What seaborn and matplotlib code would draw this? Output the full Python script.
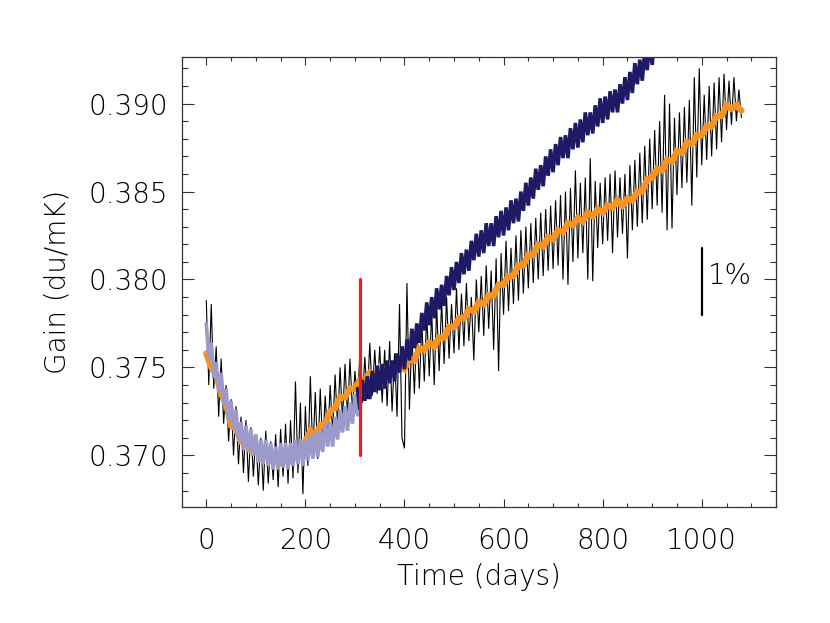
import numpy as np
import pandas as pd
import matplotlib
matplotlib.use("Agg")
import matplotlib.pyplot as plt
import seaborn as sns
from matplotlib.ticker import MultipleLocator, FormatStrFormatter

# --- dados (ganho em unidades de 1e-4 du/mK) ---
dias_preto = np.arange(0, 1085, 5)
ganho_preto = [
    3788, 3740, 3786, 3738, 3762, 3722, 3755, 3718, 3740, 3708,
    3732, 3700, 3728, 3695, 3722, 3690, 3720, 3685, 3716, 3688,
    3712, 3683, 3710, 3680, 3714, 3684, 3708, 3686, 3712, 3682,
    3715, 3688, 3718, 3684, 3720, 3687, 3742, 3690, 3730, 3678,
    3728, 3694, 3745, 3700, 3736, 3698, 3738, 3704, 3734, 3708,
    3740, 3712, 3746, 3716, 3750, 3720, 3752, 3722, 3755, 3725,
    3748, 3728, 3758, 3730, 3756, 3732, 3764, 3734, 3760, 3735,
    3762, 3730, 3760, 3728, 3765, 3725, 3758, 3722, 3786, 3710,
    3704, 3798, 3726, 3770, 3735, 3775, 3738, 3776, 3742, 3780,
    3745, 3782, 3740, 3785, 3748, 3788, 3752, 3790, 3755, 3786,
    3758, 3795, 3760, 3792, 3762, 3798, 3765, 3790, 3754, 3800,
    3770, 3802, 3768, 3808, 3772, 3805, 3760, 3812, 3748, 3815,
    3780, 3822, 3782, 3818, 3786, 3825, 3788, 3828, 3792, 3830,
    3795, 3832, 3798, 3835, 3800, 3838, 3802, 3840, 3805, 3842,
    3806, 3845, 3808, 3848, 3800, 3850, 3797, 3852, 3810, 3862,
    3812, 3855, 3815, 3858, 3800, 3869, 3799, 3856, 3818, 3855,
    3820, 3858, 3822, 3860, 3815, 3862, 3824, 3858, 3826, 3860,
    3812, 3865, 3828, 3868, 3830, 3872, 3832, 3876, 3834, 3880,
    3840, 3885, 3842, 3890, 3838, 3905, 3828, 3900, 3829, 3892,
    3848, 3895, 3852, 3898, 3855, 3902, 3842, 3915, 3858, 3920,
    3865, 3905, 3868, 3910, 3870, 3912, 3874, 3915, 3878, 3917,
    3885, 3913, 3888, 3915, 3890, 3908, 3892,
]

dias_laranja = np.arange(0, 1090, 10)
ganho_laranja = [
    3758, 3750, 3746, 3735, 3729, 3717, 3715, 3708, 3708, 3703,
    3703, 3699, 3701, 3697, 3699, 3696, 3699, 3697, 3700, 3700,
    3708, 3714, 3710, 3717, 3718, 3725, 3727, 3733, 3733, 3738,
    3738, 3743, 3743, 3747, 3746, 3750, 3747, 3750, 3748, 3751,
    3749, 3755, 3754, 3761, 3760, 3764, 3762, 3767, 3767, 3773,
    3773, 3778, 3778, 3783, 3782, 3787, 3786, 3791, 3791, 3797,
    3797, 3802, 3802, 3808, 3808, 3814, 3814, 3820, 3819, 3824,
    3823, 3828, 3827, 3832, 3831, 3835, 3833, 3838, 3836, 3840,
    3838, 3842, 3841, 3845, 3842, 3846, 3845, 3850, 3850, 3857,
    3858, 3863, 3862, 3868, 3867, 3873, 3872, 3878, 3877, 3882,
    3882, 3887, 3887, 3893, 3893, 3899, 3897, 3899, 3896,
]

dias_lilas = np.arange(0, 310, 5)
ganho_lilas = [
    3775, 3755, 3764, 3744, 3753, 3736, 3747, 3729, 3738, 3719,
    3731, 3715, 3726, 3708, 3719, 3703, 3717, 3702, 3715, 3700,
    3712, 3696, 3709, 3695, 3709, 3694, 3707, 3692, 3705, 3692,
    3707, 3693, 3707, 3692, 3707, 3694, 3709, 3695, 3709, 3694,
    3709, 3697, 3712, 3698, 3713, 3699, 3714, 3702, 3718, 3705,
    3719, 3705, 3722, 3709, 3726, 3713, 3728, 3714, 3730, 3718,
    3735, 3723,
]

dias_azul = np.arange(305, 955, 5)
ganho_azul = [
    3738, 3726, 3743, 3731, 3745, 3732, 3748, 3736, 3751, 3737,
    3752, 3738, 3754, 3741, 3754, 3742, 3758, 3747, 3762, 3749,
    3766, 3754, 3772, 3761, 3775, 3764, 3781, 3771, 3787, 3774,
    3790, 3778, 3795, 3783, 3797, 3785, 3802, 3791, 3807, 3794,
    3810, 3798, 3815, 3803, 3817, 3805, 3822, 3811, 3826, 3813,
    3828, 3815, 3832, 3819, 3832, 3819, 3836, 3824, 3839, 3825,
    3841, 3828, 3845, 3832, 3846, 3833, 3850, 3839, 3855, 3842,
    3858, 3846, 3863, 3851, 3865, 3853, 3870, 3859, 3874, 3861,
    3877, 3865, 3881, 3869, 3882, 3869, 3886, 3874, 3889, 3875,
    3891, 3878, 3895, 3882, 3895, 3883, 3899, 3887, 3903, 3889,
    3904, 3891, 3907, 3895, 3908, 3895, 3911, 3900, 3915, 3902,
    3918, 3906, 3923, 3911, 3925, 3913, 3930, 3919, 3935, 3922,
    3938, 3926, 3943, 3931, 3945, 3933, 3950, 3939, 3955, 3942,
]

# linha vermelha e barra de escala de 1%
dia_corte = 310
corte_ganho = [0.370, 0.380]
barra_dia = 1000
barra_ganho = [0.3780, 0.3818]

sns.set_style("ticks")
plt.rcParams["font.family"] = ["DejaVu Sans"]
plt.rcParams["font.weight"] = "light"
plt.rcParams["axes.labelweight"] = "light"

fig = plt.figure(figsize=(8.3, 6.23), dpi=100)
ax = fig.add_axes([0.2187, 0.1857, 0.7163, 0.7223])

# (dias, ganho, cor, espessura)
series = [
    (dias_preto, ganho_preto, "black", 0.8),
    (dias_laranja, ganho_laranja, "#F7931E", 4.5),
    (dias_lilas, ganho_lilas, "#9C99CB", 2.6),
    (dias_azul, ganho_azul, "#1F1A66", 2.6),
]
for dias, ganho, cor, lw in series:
    df = pd.DataFrame({"dia": dias, "ganho": np.array(ganho) * 1e-4})
    sns.lineplot(data=df, x="dia", y="ganho", color=cor, linewidth=lw,
                 solid_joinstyle="miter", ax=ax)

df_corte = pd.DataFrame({"dia": [dia_corte, dia_corte], "ganho": corte_ganho})
sns.lineplot(data=df_corte, x="dia", y="ganho", color="#ED1C24", linewidth=2.3,
             estimator=None, sort=False, ax=ax)
df_barra = pd.DataFrame({"dia": [barra_dia, barra_dia], "ganho": barra_ganho})
sns.lineplot(data=df_barra, x="dia", y="ganho", color="black", linewidth=1.6,
             estimator=None, sort=False, ax=ax)
ax.text(barra_dia + 12, np.mean(barra_ganho) + 0.0003, "1%", fontsize=20,
        ha="left", va="center", color="black")

ax.set_xlim(-50, 1150)
ax.set_ylim(0.36705, 0.39263)
ax.xaxis.set_major_locator(MultipleLocator(200))
ax.xaxis.set_minor_locator(MultipleLocator(50))
ax.yaxis.set_major_locator(MultipleLocator(0.005))
ax.yaxis.set_minor_locator(MultipleLocator(0.001))
ax.yaxis.set_major_formatter(FormatStrFormatter("%.3f"))

ax.tick_params(axis="both", which="both", direction="in", top=True, right=True,
               width=0.8, colors="#333333", labelcolor="black", labelsize=20)
ax.tick_params(axis="x", which="major", length=6, pad=14)
ax.tick_params(axis="x", which="minor", length=3)
ax.tick_params(axis="y", which="major", length=8.5, pad=10)
ax.tick_params(axis="y", which="minor", length=4.5)
for sp in ax.spines.values():
    sp.set_linewidth(0.9)
    sp.set_color("#333333")

ax.set_xlabel("Time (days)", fontsize=20, labelpad=6, color="black")
ax.set_ylabel("Gain (du/mK)", fontsize=20, labelpad=12, color="black")

fig.savefig("out.png", dpi=100)
